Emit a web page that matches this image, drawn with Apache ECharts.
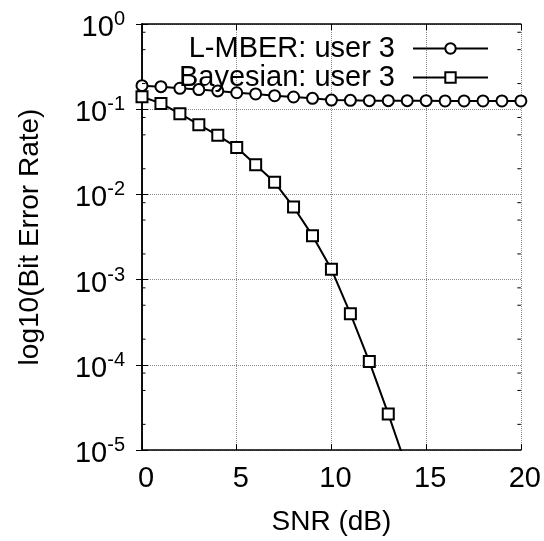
<!DOCTYPE html>
<html><head><meta charset="utf-8">
<script src="https://cdn.jsdelivr.net/npm/echarts@6/dist/echarts.min.js"></script>
<style>html,body{margin:0;padding:0;background:#fff}#c{width:544px;height:541px}</style>
</head><body><div id="c"></div>
<script>
const snrLmber = [0,1,2,3,4,5,6,7,8,9,10,11,12,13,14,15,16,17,18,19,20];
const lmber = [0.189,0.184,0.176,0.170,0.164,0.156,0.151,0.144,0.139,0.134,0.128,0.127,0.126,0.126,0.126,0.126,0.125,0.125,0.125,0.125,0.125];
const snrBayes = [0,1,2,3,4,5,6,7,8,9,10,11,12,13,14];
const bayes = [0.140,0.117,0.0885,0.0658,0.0493,0.0356,0.0223,0.01386,0.00711,0.00328,0.00132,0.000398,0.000109,0.0000265,0.000006];
const seriesNames = ['L-MBER: user 3','Bayesian: user 3'];
const minorTickValues = [0.8,0.5,0.2,0.08,0.05,0.02,0.008,0.005,0.002,0.0008,0.0005,0.0002,0.00008,0.00005,0.00002];

const FONT = "'Liberation Sans', Arial, sans-serif";
const chart = echarts.init(document.getElementById('c'), null, {renderer:'canvas'});
const axisLine = {show:true, lineStyle:{color:'#000', width:1.5}};
const option = {
  animation:false,
  backgroundColor:'#fff',
  textStyle:{fontFamily:FONT},
  grid:{left:142, right:21, top:24, bottom:91, containLabel:false},
  legend:{
    data:seriesNames, right:50, top:29, orient:'vertical', align:'right',
    itemWidth:75, itemHeight:13, itemGap:0,
    textStyle:{fontFamily:FONT, fontSize:29, color:'#000', lineHeight:28, padding:[0,13,0,0]}
  },
  xAxis:[{
    type:'value', min:0, max:20, interval:5, position:'bottom',
    axisLine:axisLine,
    axisTick:{show:true, inside:true, length:6, lineStyle:{color:'#000', width:1}},
    axisLabel:{fontSize:29, color:'#000', margin:14, fontFamily:FONT, padding:[0,0,0,8]},
    splitLine:{show:true, lineStyle:{type:'dotted', color:'#888', width:1}},
    name:'SNR (dB)', nameLocation:'middle', nameGap:58,
    nameTextStyle:{fontSize:28, color:'#000', fontFamily:FONT}
  },{
    type:'value', min:0, max:20, interval:5, position:'top',
    axisLine:axisLine,
    axisTick:{show:true, inside:true, length:6, lineStyle:{color:'#000', width:1}},
    axisLabel:{show:false}, splitLine:{show:false}
  }],
  yAxis:[{
    type:'log', logBase:10, min:1e-5, max:1, position:'left',
    axisLine:axisLine,
    axisTick:{show:true, inside:true, length:6, lineStyle:{color:'#000', width:1}},
    axisLabel:{
      margin:17, color:'#000',
      formatter:function(v){ const e=Math.round(Math.log10(v)); return '{b|10}{s|'+e+'}'; },
      rich:{
        b:{fontSize:29, lineHeight:29, padding:[8,0,0,0], fontFamily:FONT, color:'#000'},
        s:{fontSize:20, lineHeight:20, verticalAlign:'top', fontFamily:FONT, color:'#000'}
      }
    },
    splitLine:{show:true, lineStyle:{type:'dotted', color:'#888', width:1}},
    name:'log10(Bit Error Rate)', nameLocation:'middle', nameGap:98,
    nameTextStyle:{fontSize:28, color:'#000', fontFamily:FONT}
  },{
    type:'log', logBase:10, min:1e-5, max:1, position:'right',
    axisLine:axisLine,
    axisTick:{show:true, inside:true, length:6, lineStyle:{color:'#000', width:1}},
    axisLabel:{show:false}, splitLine:{show:false}
  }],
  series:[{
    name:seriesNames[0], type:'line', xAxisIndex:0, yAxisIndex:0,
    data:snrLmber.map((x,i)=>[x,lmber[i]]),
    symbol:'circle', symbolSize:11, showAllSymbol:true,
    lineStyle:{color:'#000', width:2},
    itemStyle:{color:'#fff', borderColor:'#000', borderWidth:2},
    z:3
  },{
    name:seriesNames[1], type:'line', xAxisIndex:0, yAxisIndex:0,
    data:snrBayes.map((x,i)=>[x,bayes[i]]),
    symbol:'rect', symbolSize:11, showAllSymbol:true, clip:true,
    lineStyle:{color:'#000', width:2},
    itemStyle:{color:'#fff', borderColor:'#000', borderWidth:2},
    z:3
  },{
    type:'custom', xAxisIndex:0, yAxisIndex:0, silent:true, z:5,
    data:minorTickValues.map(v=>[0,v]),
    renderItem:function(params, api){
      const p = api.coord([0, api.value(1)]);
      const cs = params.coordSys;
      const xl = cs.x, xr = cs.x + cs.width;
      const st = {stroke:'#000', lineWidth:1};
      return {type:'group', children:[
        {type:'line', shape:{x1:xl, y1:p[1], x2:xl+3.5, y2:p[1]}, style:st},
        {type:'line', shape:{x1:xr-3.5, y1:p[1], x2:xr, y2:p[1]}, style:st}
      ]};
    }
  }]
};
chart.setOption(option);
</script></body></html>
